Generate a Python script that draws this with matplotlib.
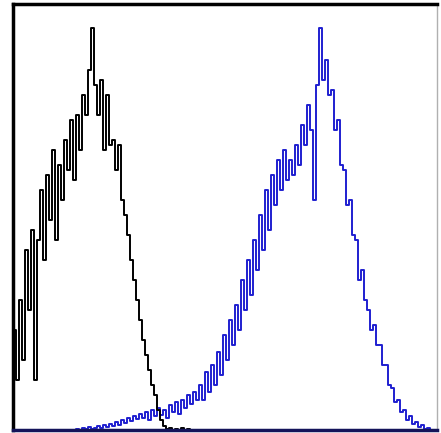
import numpy as np
import matplotlib
matplotlib.use('Agg')
import matplotlib.pyplot as plt

# histogram counts per channel (one channel ~ 3 px in the reference)
black_start = 0
black_counts = [100, 50, 130, 70, 180, 120, 200, 50, 190, 240,
                170, 255, 210, 280, 190, 265, 230, 290, 260, 310,
                250, 315, 280, 335, 315, 360, 402, 345, 315, 350,
                280, 335, 285, 290, 260, 285, 230, 215, 195, 170,
                150, 130, 110, 90, 75, 60, 45, 35, 20, 10,
                4, 1, 2, 0, 1, 0, 2, 0, 1, 0]

blue_start = 20
blue_counts = [0, 1, 0, 2, 1, 3, 1, 2, 4, 2,
               5, 3, 6, 4, 8, 5, 10, 7, 12, 9,
               14, 11, 16, 12, 18, 10, 20, 14, 22, 15,
               20, 12, 25, 18, 28, 16, 30, 22, 35, 26,
               38, 30, 45, 30, 58, 38, 65, 45, 78, 55,
               95, 70, 110, 85, 125, 100, 150, 120, 170, 135,
               190, 160, 215, 180, 240, 200, 255, 225, 270, 240,
               280, 250, 270, 255, 285, 265, 305, 285, 325, 300,
               230, 345, 402, 350, 370, 335, 340, 300, 310, 265,
               260, 225, 230, 195, 190, 150, 160, 130, 120, 100,
               105, 85, 85, 65, 65, 45, 42, 28, 30, 18,
               20, 10, 14, 6, 8, 3, 5, 1, 2, 0, 0]

fig = plt.figure(figsize=(4.41, 4.33), dpi=100)
ax = fig.add_axes([13/441, 3/433, 424/441, 426/433])

xb = np.arange(black_start, black_start + len(black_counts)) + 0.5
xl = np.arange(blue_start, blue_start + len(blue_counts)) + 0.5

ax.step(xl, blue_counts, where='mid', color='#1f1fd0', lw=1.4)
ax.step(xb, black_counts, where='mid', color='black', lw=1.4)

ax.set_xlim(0, 424/3)
ax.set_ylim(0, 426)
ax.set_xticks([])
ax.set_yticks([])

for side in ['left', 'top']:
    ax.spines[side].set_linewidth(2.5)
    ax.spines[side].set_color('black')
ax.spines['bottom'].set_linewidth(2.5)
ax.spines['bottom'].set_color('#14145a')
ax.spines['right'].set_linewidth(1.0)
ax.spines['right'].set_color('#b0b0b0')

fig.savefig('out.png', dpi=100)
